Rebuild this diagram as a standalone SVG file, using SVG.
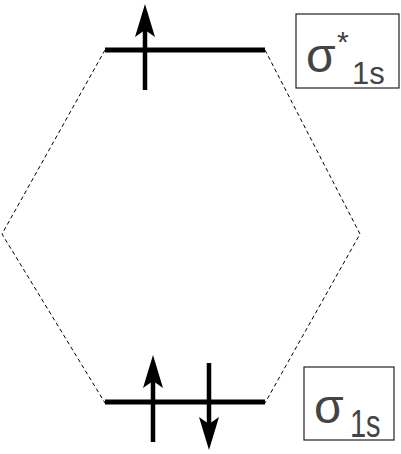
<svg xmlns="http://www.w3.org/2000/svg" width="401" height="454" viewBox="0 0 401 454">
<style>
.lvl{stroke:#000;stroke-width:5;fill:none}
.arr{stroke:#000;stroke-width:4.5;fill:none}
.hd{fill:#000}
.cn{stroke:#000;stroke-width:1;stroke-dasharray:4,3;fill:none}
.box{fill:#fff;stroke:#222;stroke-width:1.2}
.t{font-family:"Liberation Sans",Arial,sans-serif;fill:#444}
</style>
<rect width="401" height="454" fill="#fff"/>
<g id="connectors">
<path class="cn" d="M105,50 L2,234 L105,403"/>
<path class="cn" d="M265,50 L360,234 L265,403"/>
</g>
<g id="sigma-star-level">
<line class="lvl" x1="105" y1="50" x2="265" y2="50"/>
<line class="arr" x1="145" y1="90" x2="145" y2="30"/>
<path class="hd" d="M145,4 L155,37 L145,30 L135,37 Z"/>
</g>
<g id="sigma-level">
<line class="lvl" x1="105" y1="402" x2="265" y2="402"/>
<line class="arr" x1="153" y1="442" x2="153" y2="380"/>
<path class="hd" d="M153,355 L163,388 L153,381 L143,388 Z"/>
<line class="arr" x1="209" y1="363" x2="209" y2="425"/>
<path class="hd" d="M209,450 L219,417 L209,424 L199,417 Z"/>
</g>
<g id="label-sigma-star">
<rect class="box" x="296" y="14" width="103" height="74"/>
<text class="t" x="306" y="72" font-size="48">σ</text>
<text class="t" x="337" y="52" font-size="30">*</text>
<text class="t" x="352" y="84" font-size="31">1s</text>
</g>
<g id="label-sigma">
<rect class="box" x="304" y="367" width="90" height="73"/>
<text class="t" x="314" y="423" font-size="48">σ</text>
<text class="t" transform="translate(350,437) scale(1,1.35)" x="0" y="0" font-size="29">1s</text>
</g>
</svg>
